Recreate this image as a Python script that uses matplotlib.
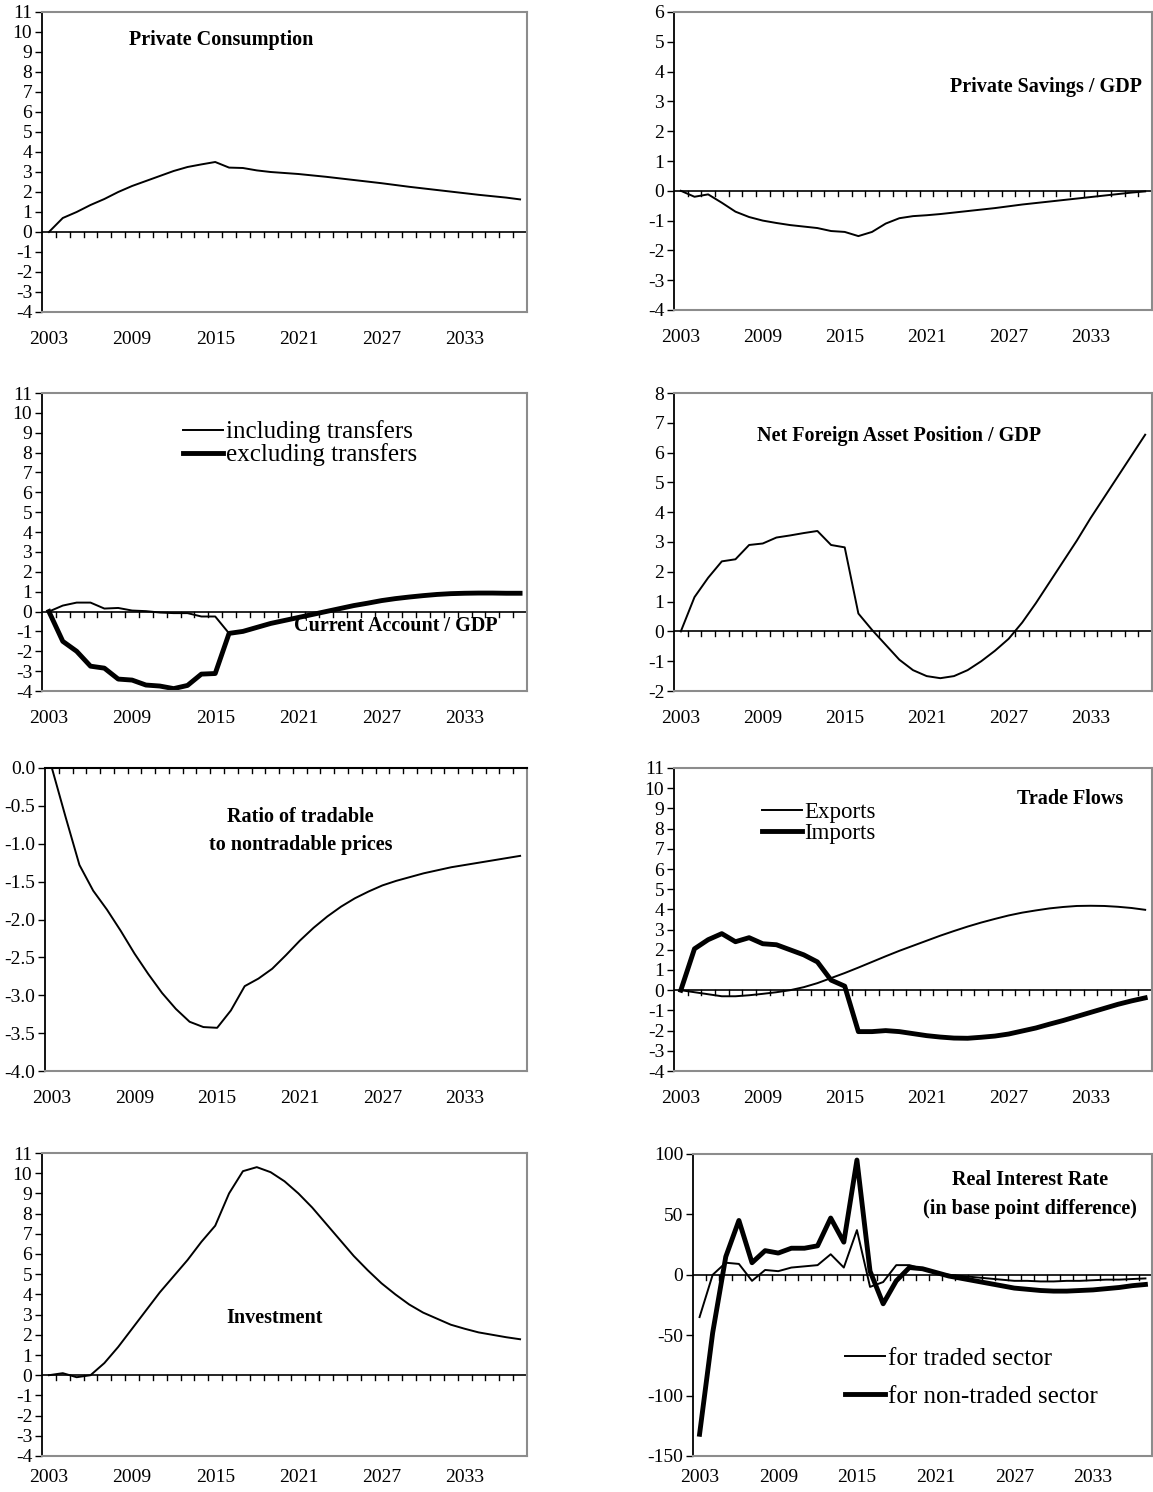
import matplotlib
matplotlib.use("Agg")
import matplotlib.pyplot as plt
import numpy as np

years = list(range(2003, 2038))
consumption = [0,0.7,1.0,1.35,1.65,2.0,2.3,2.55,2.8,3.05,3.25,3.38,3.5,3.22,3.2,3.08,3.0,2.95,2.9,2.83,2.76,2.68,2.6,2.52,2.44,2.35,2.26,2.18,2.1,2.02,1.94,1.86,1.79,1.72,1.63]
savings = [0,-0.2,-0.12,-0.4,-0.7,-0.88,-1.0,-1.08,-1.15,-1.2,-1.25,-1.35,-1.38,-1.52,-1.38,-1.1,-0.92,-0.85,-0.82,-0.78,-0.73,-0.68,-0.63,-0.58,-0.52,-0.46,-0.41,-0.36,-0.31,-0.26,-0.21,-0.16,-0.11,-0.06,-0.02]
ca_tail = [-1.0,-0.8,-0.6,-0.45,-0.3,-0.15,0.0,0.15,0.3,0.42,0.55,0.65,0.73,0.8,0.86,0.9,0.92,0.93,0.93,0.92,0.92]
ca_incl = [0,0.3,0.45,0.45,0.15,0.18,0.05,0.02,-0.05,-0.08,-0.08,-0.25,-0.25,-1.1] + ca_tail
ca_excl = [0,-1.5,-2.0,-2.75,-2.85,-3.4,-3.45,-3.7,-3.75,-3.88,-3.72,-3.15,-3.12,-1.1] + ca_tail
nfa = [0,1.15,1.8,2.35,2.42,2.9,2.95,3.15,3.22,3.3,3.37,2.9,2.82,0.6,0.05,-0.45,-0.95,-1.3,-1.5,-1.57,-1.5,-1.3,-1.0,-0.65,-0.25,0.3,0.95,1.65,2.35,3.05,3.8,4.5,5.2,5.9,6.6]
ratio = [0,-0.65,-1.28,-1.62,-1.87,-2.15,-2.45,-2.72,-2.97,-3.18,-3.35,-3.42,-3.43,-3.2,-2.88,-2.78,-2.65,-2.47,-2.28,-2.11,-1.96,-1.83,-1.72,-1.63,-1.55,-1.49,-1.44,-1.39,-1.35,-1.31,-1.28,-1.25,-1.22,-1.19,-1.16]
exports = [0,-0.1,-0.2,-0.3,-0.3,-0.25,-0.18,-0.1,0.0,0.15,0.35,0.6,0.85,1.12,1.4,1.68,1.95,2.2,2.45,2.7,2.93,3.15,3.35,3.53,3.7,3.84,3.95,4.05,4.12,4.17,4.18,4.17,4.13,4.07,3.98]
imports = [0,2.05,2.5,2.8,2.4,2.6,2.3,2.25,2.0,1.75,1.4,0.5,0.2,-2.05,-2.05,-2.0,-2.05,-2.15,-2.25,-2.32,-2.37,-2.38,-2.33,-2.27,-2.17,-2.02,-1.87,-1.68,-1.5,-1.3,-1.1,-0.9,-0.7,-0.53,-0.38]
investment = [0,0.1,-0.1,0.0,0.6,1.4,2.3,3.2,4.1,4.9,5.7,6.6,7.4,9.0,10.1,10.3,10.05,9.6,9.0,8.3,7.5,6.7,5.9,5.2,4.55,4.0,3.5,3.1,2.8,2.5,2.3,2.12,2.0,1.88,1.78]
rate_traded = [-35,0,10,9,-5,4,3,6,7,8,17,6,37,-10,-6,8,8,5,2,0,-1,-2,-3,-4,-5,-5,-5.5,-5.5,-5,-5,-4.5,-4,-4,-3.5,-3]
rate_nontraded = [-132,-48,15,45,10,20,18,22,22,24,47,27,95,3,-24,-5,6,5,2,-1,-3,-5,-7,-9,-11,-12,-13,-13.5,-13.5,-13,-12.5,-11.5,-10.5,-9,-8]

plt.rcParams['font.family'] = ['Liberation Serif', 'DejaVu Serif']
W, H = 1153, 1492
fig = plt.figure(figsize=(W/100, H/100), dpi=100)
x = np.arange(len(years))

def mkax(l, t, r, b):
    return fig.add_axes([l/W, 1-b/H, (r-l)/W, (b-t)/H])

def style(ax, ylo, yhi, step, zero=0, fmt="{:g}", pad=14):
    ax.set_xlim(-0.5, len(years)-0.5)
    ax.set_ylim(ylo, yhi)
    yt = np.arange(ylo, yhi+step/2, step)
    ax.set_yticks(yt)
    ax.set_yticklabels([fmt.format(v) for v in yt], fontsize=14)
    ax.set_xticks(x[::6])
    ax.set_xticklabels([str(years[i]) for i in x[::6]], fontsize=14)
    ax.tick_params(axis='x', length=0, pad=pad)
    ax.tick_params(axis='y', direction='out', length=5, width=1, pad=2)
    for s in ['top', 'right', 'bottom']:
        ax.spines[s].set_color('#8c8c8c'); ax.spines[s].set_linewidth(1.5)
    ax.spines['left'].set_color('black'); ax.spines['left'].set_linewidth(1.3)
    ax.axhline(zero, color='black', lw=1.2, zorder=1)
    span = yhi - ylo
    for b in np.arange(0.5, len(years)-0.5, 1.0):
        ax.plot([b, b], [zero, zero - span*0.017], color='black', lw=1, zorder=1, clip_on=False)

thin = dict(color='black', lw=1.4)
thick = dict(color='black', lw=3.5)
TF = 14.5

ax = mkax(42, 12, 527, 312); style(ax, -4, 11, 1)
ax.plot(x, consumption, **thin)
ax.text(0.18, 0.89, 'Private Consumption', transform=ax.transAxes, fontsize=TF, fontweight='bold')

ax = mkax(674, 12, 1152, 310); style(ax, -4, 6, 1)
ax.plot(x, savings, **thin)
ax.text(0.98, 0.73, 'Private Savings / GDP', transform=ax.transAxes, fontsize=TF, fontweight='bold', ha='right')

ax = mkax(42, 393, 527, 691); style(ax, -4, 11, 1)
ax.plot(x, ca_incl, label='including transfers', **thin)
ax.plot(x, ca_excl, label='excluding transfers', **thick)
ax.text(0.94, 0.2, 'Current Account / GDP', transform=ax.transAxes, fontsize=TF, fontweight='bold', ha='right')
ax.legend(loc='upper left', bbox_to_anchor=(0.265, 0.95), frameon=False, fontsize=18, handlelength=1.6, handletextpad=0.1, labelspacing=0.0, borderpad=0)

ax = mkax(674, 393, 1152, 691); style(ax, -2, 8, 1)
ax.plot(x, nfa, **thin)
ax.text(0.47, 0.84, 'Net Foreign Asset Position / GDP', transform=ax.transAxes, fontsize=TF, fontweight='bold', ha='center')

ax = mkax(45, 768, 527, 1071); style(ax, -4, 0, 0.5, fmt="{:.1f}")
ax.spines['top'].set_color('black')
ax.plot(x, ratio, **thin)
ax.text(0.53, 0.73, 'Ratio of tradable\nto nontradable prices', transform=ax.transAxes, fontsize=TF, fontweight='bold', ha='center', linespacing=1.5)

ax = mkax(674, 768, 1152, 1071); style(ax, -4, 11, 1)
ax.plot(x, exports, label='Exports', **thin)
ax.plot(x, imports, label='Imports', **thick)
ax.text(0.94, 0.88, 'Trade Flows', transform=ax.transAxes, fontsize=TF, fontweight='bold', ha='right')
ax.legend(loc='upper left', bbox_to_anchor=(0.16, 0.925), frameon=False, fontsize=16.5, handlelength=1.75, handletextpad=0.1, labelspacing=0.0, borderpad=0)

ax = mkax(42, 1153, 527, 1456); style(ax, -4, 11, 1, pad=9)
ax.plot(x, investment, **thin)
ax.text(0.48, 0.44, 'Investment', transform=ax.transAxes, fontsize=TF, fontweight='bold', ha='center')

ax = mkax(693, 1154, 1152, 1456); style(ax, -150, 100, 50, pad=9)
ax.plot(x, rate_traded, label='for traded sector', **thin)
ax.plot(x, rate_nontraded, label='for non-traded sector', **thick)
ax.text(0.735, 0.8, 'Real Interest Rate\n(in base point difference)', transform=ax.transAxes, fontsize=TF, fontweight='bold', ha='center', linespacing=1.6)
ax.legend(loc='upper left', bbox_to_anchor=(0.305, 0.4), frameon=False, fontsize=18, handlelength=1.6, handletextpad=0.1, labelspacing=0.6, borderpad=0)

fig.savefig('out.png', dpi=100)
